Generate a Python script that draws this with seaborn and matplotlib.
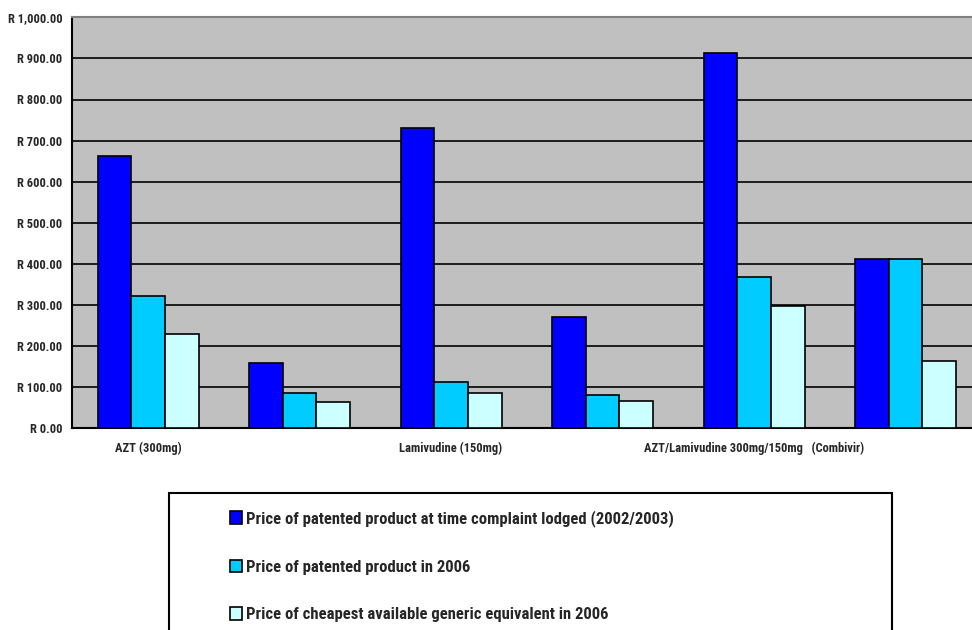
import matplotlib
matplotlib.use('Agg')
import matplotlib.pyplot as plt
import matplotlib.ticker as mticker
from matplotlib.patches import Patch, Rectangle
import numpy as np
import pandas as pd
import seaborn as sns

# data
products = ['AZT (300mg)', '', 'Lamivudine (150mg)', '',
            'AZT/Lamivudine 300mg/150mg   (Combivir)', '']
series = ['Price of patented product at time complaint lodged (2002/2003)',
          'Price of patented product in 2006',
          'Price of cheapest available generic equivalent in 2006']
price_patent_complaint = [663, 158, 730, 270, 914, 413]
price_patent_2006 = [322, 87, 112, 81, 367, 413]
price_generic_2006 = [229, 65, 87, 66, 297, 163]
colors = ['#0000FF', '#00CCFF', '#CCFFFF']

rows = []
for i in range(len(products)):
    for s, vals in zip(series, [price_patent_complaint, price_patent_2006, price_generic_2006]):
        rows.append({'group': i, 'series': s, 'price': vals[i]})
df = pd.DataFrame(rows)

sns.set_style('white')
plt.rcParams['font.family'] = ['Roboto Condensed', 'DejaVu Sans']

W, H = 972, 630
fig = plt.figure(figsize=(W / 100, H / 100), dpi=100)
ax = fig.add_axes([72.3 / W, 1 - 428.3 / H, 909 / W, 411 / H])
ax.set_facecolor('#C0C0C0')

sns.barplot(data=df, x='group', y='price', hue='series', hue_order=series,
            palette=colors, width=0.667, gap=0, edgecolor='black', linewidth=1.2,
            saturation=1, ax=ax, legend=False, zorder=3)

ax.set_ylim(0, 1000)
ax.set_xlim(-0.5, len(products) - 0.5)
ax.yaxis.set_major_locator(mticker.MultipleLocator(100))
ax.yaxis.set_major_formatter(mticker.FuncFormatter(lambda v, p: 'R {:,.2f}'.format(v)))
ax.grid(axis='y', color='black', linewidth=1.2, zorder=1)
ax.set_axisbelow(True)

ax.set_xticks(range(len(products)))
ax.set_xticklabels(products, fontsize=9, fontweight='bold')
ax.set_xticks(np.arange(-0.5, len(products)), minor=True)
ax.tick_params(axis='x', which='major', length=0, pad=10)
ax.tick_params(axis='x', which='minor', length=4, width=1, color='black', direction='out')
ax.tick_params(axis='y', length=4, width=1, color='black', direction='out', pad=3)
for lab in ax.get_yticklabels():
    lab.set_fontweight('bold')
    lab.set_fontsize(9)
ax.set_xlabel('')
ax.set_ylabel('')

for side in ['left', 'bottom']:
    ax.spines[side].set_color('black')
    ax.spines[side].set_linewidth(1.5)
ax.spines['top'].set_color('#808080')
ax.spines['top'].set_linewidth(1.5)
ax.spines['right'].set_visible(False)

# legend box (runs off the bottom of the figure)
fig.patches.append(Rectangle((169 / W, -0.1), (892 - 169) / W, (H - 493) / H + 0.1,
                             transform=fig.transFigure, facecolor='white',
                             edgecolor='black', linewidth=1.5, zorder=0))
handles = [Patch(facecolor=c, edgecolor='black', linewidth=1.2) for c in colors]
fig.legend(handles, series, loc='upper left', bbox_to_anchor=(222 / W, 1 - 502 / H),
           frameon=False, borderpad=0, handlelength=0.72, handleheight=0.78,
           handletextpad=0.25, labelspacing=1.95,
           prop={'weight': 'bold', 'size': 12})

fig.savefig('out.png', dpi=100)
